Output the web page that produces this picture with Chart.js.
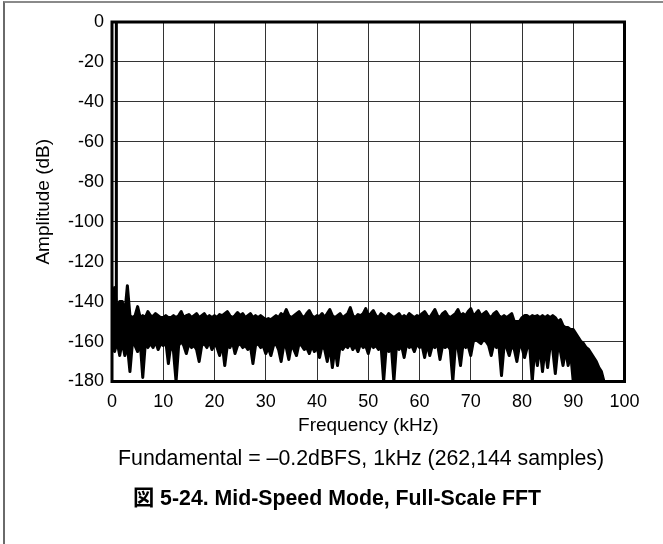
<!DOCTYPE html>
<html>
<head>
<meta charset="utf-8">
<script src="https://cdn.jsdelivr.net/npm/chart.js@4.4.0/dist/chart.umd.min.js"></script>
<style>
  html, body { margin: 0; padding: 0; background: #fff; overflow: hidden; }
  #frame { position: absolute; left: 3px; top: 1px; width: 700px; height: 600px;
           border-left: 2px solid #6a6a6a; border-top: 2px solid #8a8a8a; }
  #wrap { position: absolute; left: 0; top: 0; width: 663px; height: 544px; }
</style>
</head>
<body>
<div id="frame"></div>
<div id="wrap"><canvas id="fft" width="663" height="544"></canvas></div>
<script>
// spectrum, one value every 0.5 kHz from 0 kHz
var freqStep = 0.5;

// top edge of the noise band (dB)
var noiseTop = [
  -145, -133, -145, -140, -140, -146, -132, -147, -148, -147,
  -142.5, -148, -147, -148, -145, -147, -147.5, -146, -147, -148,
  -148, -147, -148, -148, -147, -148, -147, -145, -148, -147,
  -146.5, -148, -147, -146, -148, -147, -146, -148, -147, -148,
  -147, -148, -146.5, -147, -146, -145, -147, -148, -147, -145.5,
  -147, -146, -148, -147, -146, -148, -147, -148, -147, -148,
  -149, -148.5, -149, -148, -147, -148, -146, -147, -144, -147,
  -148, -147, -146, -145, -147, -148, -146, -144.5, -147, -148,
  -147, -147.5, -146, -148, -146, -144, -147, -148, -147, -146,
  -148, -147, -146, -143, -147, -148, -146.5, -147, -146, -143.5,
  -147, -146, -144.5, -147, -148, -146, -147, -148, -146, -147,
  -148, -147, -146, -148, -147, -148, -146, -147, -148, -147,
  -147.5, -146, -145, -147, -148, -146, -144, -147, -148, -146,
  -145, -147, -148, -147, -146, -144, -147, -146, -147, -145,
  -143.5, -147, -146, -144.5, -147, -146, -145, -147, -148, -146,
  -145, -147, -148, -147, -148, -147, -146, -150, -150, -150,
  -148, -147, -147, -148, -147, -147.5, -147, -148, -147, -148,
  -147, -148, -147, -148, -150, -149, -152, -153, -153, -154,
  -154, -156, -158, -160, -161, -163, -164, -166, -168, -170,
  -173, -175, -180
];

// bottom edge of the noise band, with the deep nulls (dB)
var noiseBottom = [
  -163, -165, -160, -167, -160, -167, -162, -175, -160, -162,
  -165, -160, -178, -161, -163, -161, -163, -160, -164, -161,
  -162, -160, -171, -161, -165, -180, -162, -160, -162, -166,
  -161, -163, -162, -164, -170, -162, -161, -163, -160, -164,
  -161, -163, -167, -161, -172, -162, -163, -160, -166, -162,
  -161, -163, -162, -164, -162, -171, -162, -161, -163, -162,
  -166, -163, -167, -162, -161, -164, -170, -162, -163, -169,
  -162, -164, -167, -161, -162, -164, -163, -166, -162, -165,
  -163, -168, -162, -164, -170, -162, -173, -163, -172, -162,
  -164, -162, -163, -161, -164, -162, -165, -161, -163, -162,
  -166, -161, -163, -162, -164, -162, -180, -163, -165, -162,
  -180, -162, -164, -162, -168, -161, -163, -162, -165, -161,
  -163, -162, -168, -161, -167, -162, -163, -161, -169, -162,
  -163, -162, -164, -180, -162, -163, -172, -161, -163, -162,
  -167, -160, -159, -160, -161, -159, -160, -162, -167, -161,
  -163, -162, -177, -162, -163, -167, -162, -164, -170, -162,
  -163, -168, -163, -162, -180, -163, -172, -162, -175, -163,
  -173, -162, -164, -176, -163, -165, -172, -164, -172, -166,
  -180, -180, -180, -180, -180, -180, -180, -180, -180, -180,
  -180, -180, -180
];

// fundamental tone
var fundFreq = [0.85, 0.85];
var fundLevel = [-160, 0];

var xTicks = { min: 0, max: 100, step: 10 };
var yTicks = { min: -180, max: 0, step: 20 };

var noteText = 'Fundamental = \u20130.2dBFS, 1kHz (262,144 samples)';
var captionText = '\u56f3 5-24. Mid-Speed Mode, Full-Scale FFT';

var FONT = '"Liberation Sans", Arial, "Noto Sans CJK JP", sans-serif';

function toPoints(vals) {
  return vals.map(function(v, i) { return { x: i * freqStep, y: v }; });
}

var plotFrame = {
  id: 'plotFrame',
  afterDatasetsDraw: function(chart) {
    var a = chart.chartArea, ctx = chart.ctx;
    ctx.save();
    ctx.strokeStyle = '#000';
    ctx.lineWidth = 3;
    ctx.strokeRect(a.left, a.top, a.right - a.left, a.bottom - a.top);
    ctx.restore();
  }
};

var notes = {
  id: 'notes',
  afterDraw: function(chart) {
    var ctx = chart.ctx;
    ctx.save();
    ctx.fillStyle = '#000';
    ctx.textAlign = 'center';
    ctx.textBaseline = 'middle';
    ctx.font = '21.3px ' + FONT;
    ctx.fillText(noteText, 361, 459);
    ctx.font = 'bold 21.3px ' + FONT;
    ctx.fillText(captionText, 337, 499);
    ctx.restore();
  }
};

var ctx = document.getElementById('fft').getContext('2d');
var chart = new Chart(ctx, {
  type: 'line',
  data: {
    datasets: [{
      label: 'top',
      data: toPoints(noiseTop),
      borderColor: '#000',
      borderWidth: 3,
      borderJoinStyle: 'round',
      pointRadius: 0,
      fill: false
    }, {
      label: 'bottom',
      data: toPoints(noiseBottom),
      borderColor: '#000',
      borderWidth: 3,
      borderJoinStyle: 'round',
      pointRadius: 0,
      backgroundColor: '#000',
      fill: '-1'
    }, {
      label: 'fundamental',
      data: fundFreq.map(function(f, i) { return { x: f, y: fundLevel[i] }; }),
      borderColor: '#000',
      borderWidth: 3,
      pointRadius: 0,
      fill: false
    }]
  },
  options: {
    responsive: false,
    animation: false,
    layout: { padding: { left: 0, top: 22, right: 38.5, bottom: 107.2 } },
    plugins: { legend: { display: false }, tooltip: { enabled: false } },
    scales: {
      x: {
        type: 'linear',
        min: xTicks.min, max: xTicks.max,
        ticks: { stepSize: xTicks.step, padding: 10, color: '#000', maxRotation: 0,
                 font: { size: 18, family: FONT } },
        grid: { color: '#333', lineWidth: 1, drawTicks: false },
        border: { display: false },
        title: { display: true, text: 'Frequency (kHz)', color: '#000', padding: 0,
                 font: { size: 19, family: FONT } },
        afterFit: function(s) { s.height = 55.3; }
      },
      y: {
        min: yTicks.min, max: yTicks.max,
        ticks: { stepSize: yTicks.step, padding: 8, color: '#000',
                 font: { size: 18, family: FONT } },
        grid: { color: '#333', lineWidth: 1, drawTicks: false },
        border: { display: false },
        title: { display: true, text: 'Amplitude (dB)', color: '#000',
                 padding: { top: 32, bottom: 0 },
                 font: { size: 19, family: FONT } },
        afterFit: function(s) { s.width = 112; }
      }
    }
  },
  plugins: [plotFrame, notes]
});
</script>
</body>
</html>
